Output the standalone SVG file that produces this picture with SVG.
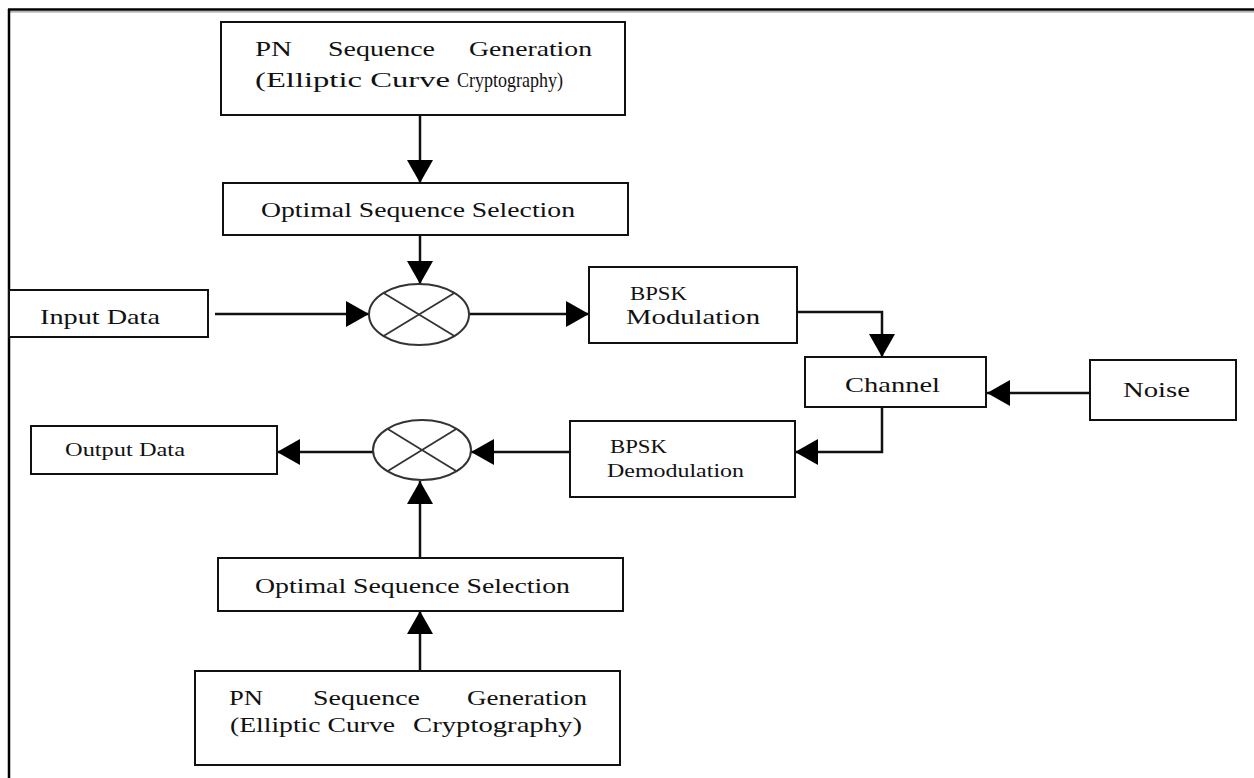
<svg xmlns="http://www.w3.org/2000/svg" width="1254" height="778" viewBox="0 0 1254 778">
<style>
.box{fill:#fff;stroke:#111;stroke-width:2}
.ln{fill:none;stroke:#111;stroke-width:2.5}
.x{fill:#fff;stroke:#333;stroke-width:2}
.xl{stroke:#333;stroke-width:1.8}
text{font-family:"Liberation Serif","Times New Roman",serif;fill:#111}
.t20{font-size:21px}
.t18{font-size:19px}
.t17{font-size:18px}
</style>
<defs>
<marker id="ah" markerUnits="userSpaceOnUse" markerWidth="24" markerHeight="26" refX="23" refY="13" orient="auto">
<path d="M0,0 L23,13 L0,26 z" fill="#000"/>
</marker>
</defs>
<rect width="1254" height="778" fill="#fff"/>
<g id="frame">
<line x1="8" y1="9.5" x2="1254" y2="9.5" stroke="#000" stroke-width="2.5"/>
<line x1="8" y1="11.8" x2="1254" y2="11.8" stroke="#999" stroke-width="1.2"/>
<line x1="9" y1="9" x2="9" y2="778" stroke="#000" stroke-width="2.5"/>
</g>
<g id="connectors">
<line class="ln" x1="420" y1="115" x2="420" y2="183" marker-end="url(#ah)"/>
<line class="ln" x1="420" y1="235" x2="420" y2="284" marker-end="url(#ah)"/>
<line class="ln" x1="215" y1="314" x2="369" y2="314" marker-end="url(#ah)"/>
<line class="ln" x1="469" y1="314" x2="589" y2="314" marker-end="url(#ah)"/>
<polyline class="ln" points="795,312 882,312 882,357" marker-end="url(#ah)"/>
<line class="ln" x1="1090" y1="393" x2="987" y2="393" marker-end="url(#ah)"/>
<polyline class="ln" points="882,407 882,452 795,452" marker-end="url(#ah)"/>
<line class="ln" x1="569" y1="452" x2="471" y2="452" marker-end="url(#ah)"/>
<line class="ln" x1="373" y1="452" x2="277" y2="452" marker-end="url(#ah)"/>
<line class="ln" x1="420" y1="558" x2="420" y2="481" marker-end="url(#ah)"/>
<line class="ln" x1="420" y1="671" x2="420" y2="611" marker-end="url(#ah)"/>
</g>
<g id="pn-top">
<rect class="box" x="221" y="22" width="404" height="93"/>
<text class="t20" x="255" y="56" textLength="37" lengthAdjust="spacingAndGlyphs">PN</text>
<text class="t20" x="328" y="56" textLength="107" lengthAdjust="spacingAndGlyphs">Sequence</text>
<text class="t20" x="469" y="56" textLength="123" lengthAdjust="spacingAndGlyphs">Generation</text>
<text class="t20" x="255" y="87" textLength="195" lengthAdjust="spacingAndGlyphs">(Elliptic Curve</text>
<text class="t20" x="457" y="87" textLength="106" lengthAdjust="spacingAndGlyphs">Cryptography)</text>
</g>
<g id="opt-top">
<rect class="box" x="223" y="183" width="405" height="52"/>
<text class="t20" x="261" y="217" textLength="314" lengthAdjust="spacingAndGlyphs">Optimal Sequence Selection</text>
</g>
<g id="mixer-top">
<ellipse class="x" cx="419" cy="314.5" rx="50" ry="30.5"/>
<line class="xl" x1="383.6" y1="292.9" x2="454.4" y2="336.1"/>
<line class="xl" x1="454.4" y1="292.9" x2="383.6" y2="336.1"/>
</g>
<g id="input">
<rect class="box" x="9" y="290" width="199" height="47"/>
<text class="t20" x="40" y="324" textLength="120" lengthAdjust="spacingAndGlyphs">Input Data</text>
</g>
<g id="bpsk-mod">
<rect class="box" x="589" y="267" width="208" height="76"/>
<text class="t18" x="630" y="300" textLength="57" lengthAdjust="spacingAndGlyphs">BPSK</text>
<text class="t20" x="626" y="324" textLength="134" lengthAdjust="spacingAndGlyphs">Modulation</text>
</g>
<g id="channel">
<rect class="box" x="805" y="357" width="181" height="50"/>
<text class="t20" x="845" y="392" textLength="95" lengthAdjust="spacingAndGlyphs">Channel</text>
</g>
<g id="noise">
<rect class="box" x="1090" y="360" width="146" height="60"/>
<text class="t20" x="1123" y="397" textLength="67" lengthAdjust="spacingAndGlyphs">Noise</text>
</g>
<g id="bpsk-demod">
<rect class="box" x="570" y="421" width="225" height="76"/>
<text class="t18" x="610" y="453" textLength="57" lengthAdjust="spacingAndGlyphs">BPSK</text>
<text class="t17" x="607" y="477" textLength="137" lengthAdjust="spacingAndGlyphs">Demodulation</text>
</g>
<g id="mixer-bottom">
<ellipse class="x" cx="422" cy="450" rx="49" ry="30"/>
<line class="xl" x1="387.4" y1="428.8" x2="456.6" y2="471.2"/>
<line class="xl" x1="456.6" y1="428.8" x2="387.4" y2="471.2"/>
</g>
<g id="output">
<rect class="box" x="31" y="426" width="246" height="48"/>
<text class="t18" x="65" y="456" textLength="120" lengthAdjust="spacingAndGlyphs">Output Data</text>
</g>
<g id="opt-bottom">
<rect class="box" x="218" y="558" width="405" height="53"/>
<text class="t20" x="255" y="593" textLength="315" lengthAdjust="spacingAndGlyphs">Optimal Sequence Selection</text>
</g>
<g id="pn-bottom">
<rect class="box" x="195" y="671" width="425" height="94"/>
<text class="t20" x="229" y="705" textLength="34" lengthAdjust="spacingAndGlyphs">PN</text>
<text class="t20" x="313" y="705" textLength="107" lengthAdjust="spacingAndGlyphs">Sequence</text>
<text class="t20" x="467" y="705" textLength="120" lengthAdjust="spacingAndGlyphs">Generation</text>
<text class="t20" x="230" y="732" textLength="165" lengthAdjust="spacingAndGlyphs">(Elliptic Curve</text>
<text class="t20" x="413" y="732" textLength="169" lengthAdjust="spacingAndGlyphs">Cryptography)</text>
</g>
</svg>
